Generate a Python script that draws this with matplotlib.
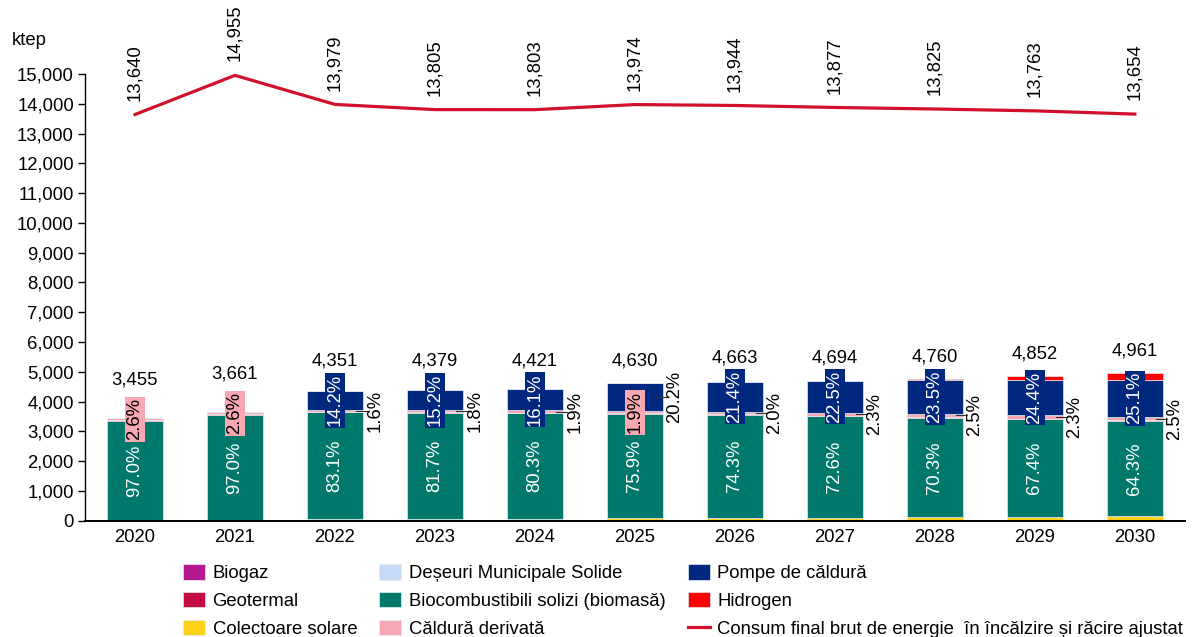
import numpy as np
import matplotlib.pyplot as plt

plt.rcParams['font.family'] = ['Liberation Sans', 'DejaVu Sans']

ani = ['2020', '2021', '2022', '2023', '2024', '2025', '2026', '2027', '2028', '2029', '2030']

# totaluri SRE incalzire si racire (ktep)
total = [3455, 3661, 4351, 4379, 4421, 4630, 4663, 4694, 4760, 4852, 4961]
# ponderi (%) afisate pe grafic
pct_biomasa = [97.0, 97.0, 83.1, 81.7, 80.3, 75.9, 74.3, 72.6, 70.3, 67.4, 64.3]
pct_pompe = [0.0, 0.0, 14.2, 15.2, 16.1, 20.2, 21.4, 22.5, 23.5, 24.4, 25.1]
pct_derivata = [2.6, 2.6, 1.6, 1.8, 1.9, 1.9, 2.0, 2.3, 2.5, 2.3, 2.5]
# serii mici (ktep), estimate
solar = [10, 12, 40, 50, 65, 80, 95, 105, 115, 140, 165]
hidrogen = [0, 0, 0, 0, 0, 0, 0, 0, 45, 130, 220]
biogaz = [2, 2, 3, 3, 3, 4, 4, 4, 5, 5, 5]
geotermal = [2, 2, 3, 3, 4, 5, 6, 6, 6, 6, 6]
deseuri = [0, 0, 1, 1, 1, 1, 1, 1, 1, 1, 1]
# consum final brut ajustat (ktep)
consum = [13640, 14955, 13979, 13805, 13803, 13974, 13944, 13877, 13825, 13763, 13654]

# pe ce serie sta eticheta interioara (vs. in dreapta)
pompe_inside = [False, False, True, True, True, False, True, True, True, True, True]

c_biogaz = '#B5198F'
c_geo = '#C20C3F'
c_solar = '#FFD21A'
c_deseuri = '#C7D9F6'
c_biomasa = '#00786C'
c_deriv = '#F7A8B3'
c_pompe = '#00287F'
c_hidro = '#FF0000'
c_linie = '#D0112B'

tot = np.array(total, dtype=float)
biomasa = tot * np.array(pct_biomasa) / 100
pompe = tot * np.array(pct_pompe) / 100
derivata = tot * np.array(pct_derivata) / 100

x = np.arange(len(ani))
w = 0.56

fig = plt.figure(figsize=(11.92, 6.37), dpi=100)
ax = fig.add_axes([0.0713, 0.1826, 0.9227, 0.7012])
ymax = 15000
px = 0.7012 * 637 / ymax  # pixeli pe ktep

stiva = [
    (solar, c_solar, 'Colectoare solare'),
    (biomasa, c_biomasa, 'Biocombustibili solizi (biomasă)'),
    (biogaz, c_biogaz, 'Biogaz'),
    (geotermal, c_geo, 'Geotermal'),
    (deseuri, c_deseuri, 'Deșeuri Municipale Solide'),
    (derivata, c_deriv, 'Căldură derivată'),
    (pompe, c_pompe, 'Pompe de căldură'),
    (hidrogen, c_hidro, 'Hidrogen'),
]
baza = np.zeros(len(ani))
handles = {}
centre = {}
for vals, col, nume in stiva:
    vals = np.array(vals, dtype=float)
    h = ax.bar(x, vals, w, bottom=baza, color=col, edgecolor='#e3ecf3', linewidth=0.5, label=nume)
    handles[nume] = h
    centre[nume] = baza + vals / 2
    baza = baza + vals

ln, = ax.plot(x, consum, color=c_linie, lw=2.3, label='Consum final brut de energie  în încălzire și răcire ajustat')

fs = 13.3
for i in range(len(ani)):
    ax.text(x[i], centre['Biocombustibili solizi (biomasă)'][i], '%.1f%%' % pct_biomasa[i],
            rotation=90, ha='center', va='center', color='white', fontsize=fs)
    # eticheta interioara
    if pompe_inside[i]:
        y_in = centre['Pompe de căldură'][i]
        ax.text(x[i], y_in, '%.1f%%' % pct_pompe[i], rotation=90,
                ha='center', va='center', color='white', fontsize=fs,
                bbox=dict(boxstyle='square,pad=0.08', fc=c_pompe, ec='none'))
        y_ext, txt_ext = centre['Căldură derivată'][i], '%.1f%%' % pct_derivata[i]
    else:
        y_in = centre['Căldură derivată'][i]
        ax.text(x[i], y_in, '%.1f%%' % pct_derivata[i], rotation=90,
                ha='center', va='center', color='black', fontsize=fs,
                bbox=dict(boxstyle='square,pad=0.08', fc=c_deriv, ec='none'))
        y_ext, txt_ext = centre['Pompe de căldură'][i], '%.1f%%' % pct_pompe[i]
    if pct_pompe[i] > 0:
        ax.plot([x[i] + 0.21, x[i] + 0.32], [y_ext, y_ext], color='#333333', lw=0.8)
        ax.text(x[i] + 0.40, y_ext, txt_ext, rotation=90, ha='center', va='center',
                color='black', fontsize=fs)
    # total deasupra barei, peste caseta interioara
    y_tot = max(total[i] + 22 / px, y_in + 39 / px)
    ax.text(x[i], y_tot, '{:,}'.format(total[i]), ha='center', va='center', fontsize=fs)
    ax.annotate('{:,}'.format(consum[i]), (x[i], consum[i]), xytext=(0, 10),
                textcoords='offset points', ha='center', va='bottom', rotation=90, fontsize=fs)

ax.set_xlim(-0.5, len(ani) - 0.5)
ax.set_ylim(0, ymax)
ax.set_yticks(np.arange(0, 15001, 1000))
ax.set_yticklabels(['{:,}'.format(v) for v in range(0, 15001, 1000)])
ax.set_xticks(x)
ax.set_xticklabels(ani)
ax.tick_params(axis='y', length=5, width=1, labelsize=fs, pad=3)
ax.tick_params(axis='x', length=0, labelsize=fs, pad=6)
ax.spines['top'].set_visible(False)
ax.spines['right'].set_visible(False)
ax.spines['bottom'].set_linewidth(1.4)
ax.spines['left'].set_linewidth(1.0)

fig.text(0.010, 0.937, 'ktep', fontsize=fs, ha='left', va='center')

ordine = ['Biogaz', 'Geotermal', 'Colectoare solare',
          'Deșeuri Municipale Solide', 'Biocombustibili solizi (biomasă)', 'Căldură derivată',
          'Pompe de căldură', 'Hidrogen']
hl = [handles[n] for n in ordine] + [ln]
lb = ordine + [ln.get_label()]
fig.legend(hl, lb, loc='upper left', bbox_to_anchor=(0.1535, 0.114), ncol=3, frameon=False,
           fontsize=fs, borderpad=0, borderaxespad=0, handlelength=1.2, handleheight=0.9,
           handletextpad=0.4, labelspacing=0.52, columnspacing=1.2)

fig.savefig('out.png', dpi=100)
